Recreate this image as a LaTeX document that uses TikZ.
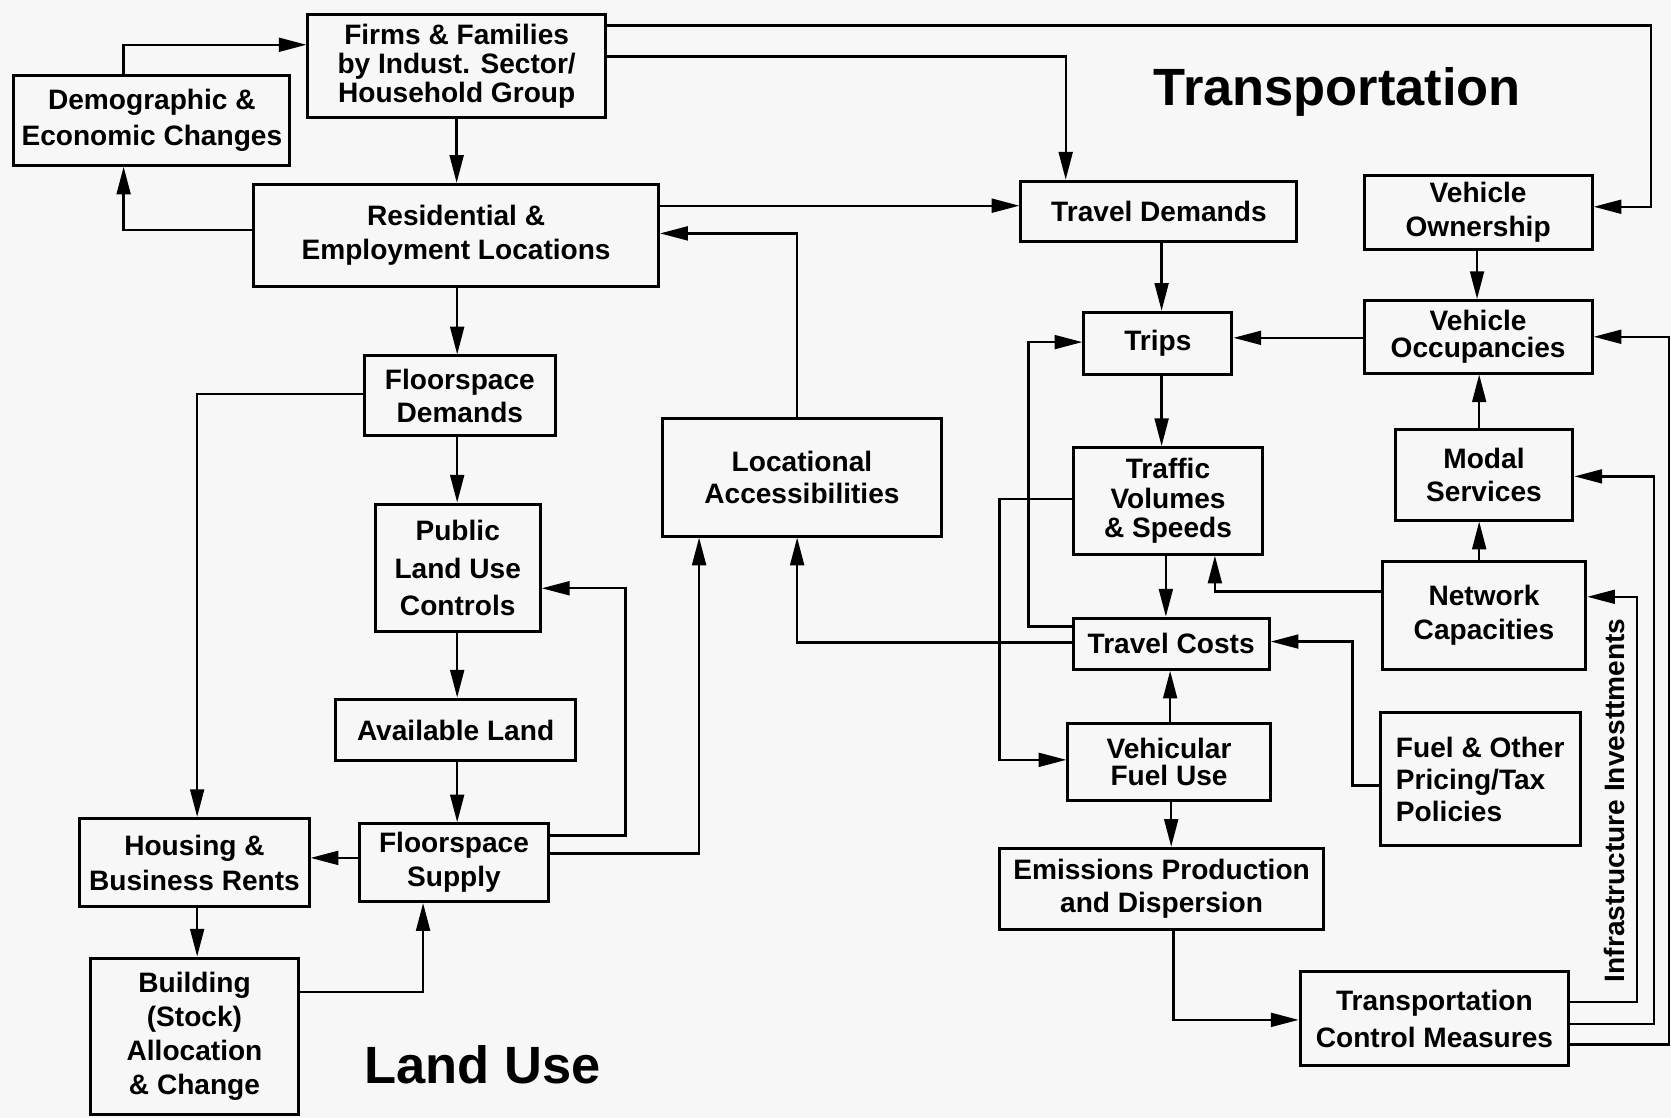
\documentclass[tikz,border=0pt]{standalone}
\usepackage{fontspec}
\setmainfont{Liberation Sans}
\usepackage{tikz}
\usetikzlibrary{arrows.meta}
\definecolor{paper}{HTML}{F7F7F7}
\newcommand{\boxfont}[1]{\fontsize{15}{#1}\selectfont\bfseries}
\tikzset{
every path/.style={line width=1.25pt}
, box/.style 2 args={draw, line width=1.6pt, align=center, inner sep=1pt, minimum width=#1*0.02cm, minimum height=#2*0.02cm, font=\boxfont{18.2}}
, flow/.style={-{Triangle[length=0.52cm,width=0.26cm]}}
, region/.style={font=\fontsize{28}{32}\selectfont\bfseries}}

\begin{document}
\begin{tikzpicture}[x=0.02cm, y=-0.02cm]
\useasboundingbox (0,0) rectangle (1568,1049);
\fill[paper] (0,0) rectangle (1568,1049);
% land use
\node[box={279}{96}, font=\boxfont{15.4}] at (428.5,62) (firms) {Firms \& Families\\by Indust. Sector/\\Household Group};
\node[box={259}{84}, font=\boxfont{19.3}] at (142.5,113) (demo) {Demographic \&\\Economic Changes};
\node[box={380}{96}] at (428,221) (resid) {Residential \&\\Employment Locations};
\node[box={179}{75}, font=\boxfont{17.6}] at (431.5,371.5) (fdem) {Floorspace\\Demands};
\node[box={155}{120}, font=\boxfont{19.9}] at (429.5,533) (public) {Public\\Land Use\\Controls};
\node[box={225}{58}] at (427.5,685) (avail) {Available Land};
\node[box={178}{73}] at (426,809.5) (fsup) {Floorspace\\Supply};
\node[box={215}{83}, font=\boxfont{18.8}] at (182.5,809.5) (rents) {Housing \&\\Business Rents};
\node[box={195}{147}] at (182.5,972.5) (stock) {Building\\(Stock)\\Allocation\\\& Change};
\node[box={261}{110}, font=\boxfont{17.6}] at (752.5,448) (access) {Locational\\Accessibilities};
\node[region] at (453,999) (landuse) {Land Use};
% transportation
\node[region] at (1255,86) (transport) {Transportation};
\node[box={259}{57}] at (1087.5,198.5) (tdem) {Travel Demands};
\node[box={214}{69}] at (1387,199.5) (vown) {Vehicle\\Ownership};
\node[box={139}{58}] at (1086.5,322) (trips) {Trips};
\node[box={214}{68}, font=\boxfont{14.5}] at (1387,316) (vocc) {Vehicle\\Occupancies};
\node[box={178}{100}, font=\boxfont{15.9}] at (1096,470) (traffic) {Traffic\\Volumes\\\& Speeds};
\node[box={167}{85}, font=\boxfont{17.6}] at (1392.5,445.5) (modal) {Modal\\Services};
\node[box={191}{101}] at (1392.5,577.5) (netcap) {Network\\Capacities};
\node[box={184}{48}] at (1099,604) (tcost) {Travel Costs};
\node[box={190}{72}, font=\boxfont{14.8}] at (1097,715) (vfuel) {Vehicular\\Fuel Use};
\node[box={188}{124}, font=\boxfont{17.1}, align=left] at (1389,731) (pricing) {Fuel \& Other\\Pricing/Tax\\Policies};
\node[box={304}{76}, font=\boxfont{17.6}] at (1090,834) (emis) {Emissions Production\\and Dispersion};
\node[box={252}{88}, font=\boxfont{19.9}] at (1346,956) (tcm) {Transportation\\Control Measures};
\node[rotate=90, font=\boxfont{18.2}] at (1515,751) (infra) {Infrastructure Investtments};

\draw[flow] (116,0 |- demo.north) |- (firms.west |- 0,42);
\draw[flow] (firms.south) -- (firms.south |- resid.north);
\draw[flow] (resid.west |- 0,216) -| (116,0 |- demo.south);
\draw[flow] (firms.east |- 0,24) -| (1549,194) -- (vown.east |- 0,194);
\draw[flow] (firms.east |- 0,53) -| (1000,0 |- tdem.north);
\draw[flow] (resid.east |- 0,193) -- (tdem.west |- 0,193);
\draw[flow] (748,0 |- access.north) |- (resid.east |- 0,219);
\draw[flow] (429,0 |- resid.south) -- (429,0 |- fdem.north);
\draw[flow] (fdem.west |- 0,370) -| (185,0 |- rents.north);
\draw[flow] (429,0 |- fdem.south) -- (429,0 |- public.north);
\draw[flow] (429,0 |- public.south) -- (429,0 |- avail.north);
\draw[flow] (429,0 |- avail.south) -- (429,0 |- fsup.north);
\draw[flow] (fsup.east |- 0,784) -| (587,552) -- (public.east |- 0,552);
\draw[flow] (fsup.east |- 0,801) -| (656,0 |- access.south);
\draw[flow] (fsup.west |- 0,805) -- (rents.east |- 0,805);
\draw[flow] (185,0 |- rents.south) -- (185,0 |- stock.north);
\draw[flow] (stock.east |- 0,931) -| (397,0 |- fsup.south);
\draw[flow] (tcost.west |- 0,603) -| (748,0 |- access.south);

\draw[flow] (1090,0 |- tdem.south) -- (1090,0 |- trips.north);
\draw[flow] (1386,0 |- vown.south) -- (1386,0 |- vocc.north);
\draw[flow] (vocc.west |- 0,317) -- (trips.east |- 0,317);
\draw[flow] (1090,0 |- trips.south) -- (1090,0 |- traffic.north);
\draw[flow] (tcost.west |- 0,588) -| (965,321) -- (trips.west |- 0,321);
\draw[flow] (traffic.west |- 0,468) -| (938,713) -- (vfuel.west |- 0,713);
\draw[flow] (1094,0 |- traffic.south) -- (1094,0 |- tcost.north);
\draw[flow] (1098,0 |- vfuel.north) -- (1098,0 |- tcost.south);
\draw[flow] (1099,0 |- vfuel.south) -- (1099,0 |- emis.north);
\draw[flow] (1101,0 |- emis.south) |- (tcm.west |- 0,957);
\draw[flow] (1388,0 |- modal.north) -- (1388,0 |- vocc.south);
\draw[flow] (1388,0 |- netcap.north) -- (1388,0 |- modal.south);
\draw[flow] (netcap.west |- 0,555) -| (1140,0 |- traffic.south);
\draw[flow] (pricing.west |- 0,737) -| (1269,602) -- (tcost.east |- 0,602);
%\draw[flow] (tcm.east) -- (netcap.east);
\draw[flow] (tcm.east |- 0,940) -| (1536,560) -- (netcap.east |- 0,560);
\draw[flow] (tcm.east |- 0,961) -| (1552,447) -- (modal.east |- 0,447);
\draw[flow] (tcm.east |- 0,980) -| (1566,316) -- (vocc.east |- 0,316);
\end{tikzpicture}
\end{document}
